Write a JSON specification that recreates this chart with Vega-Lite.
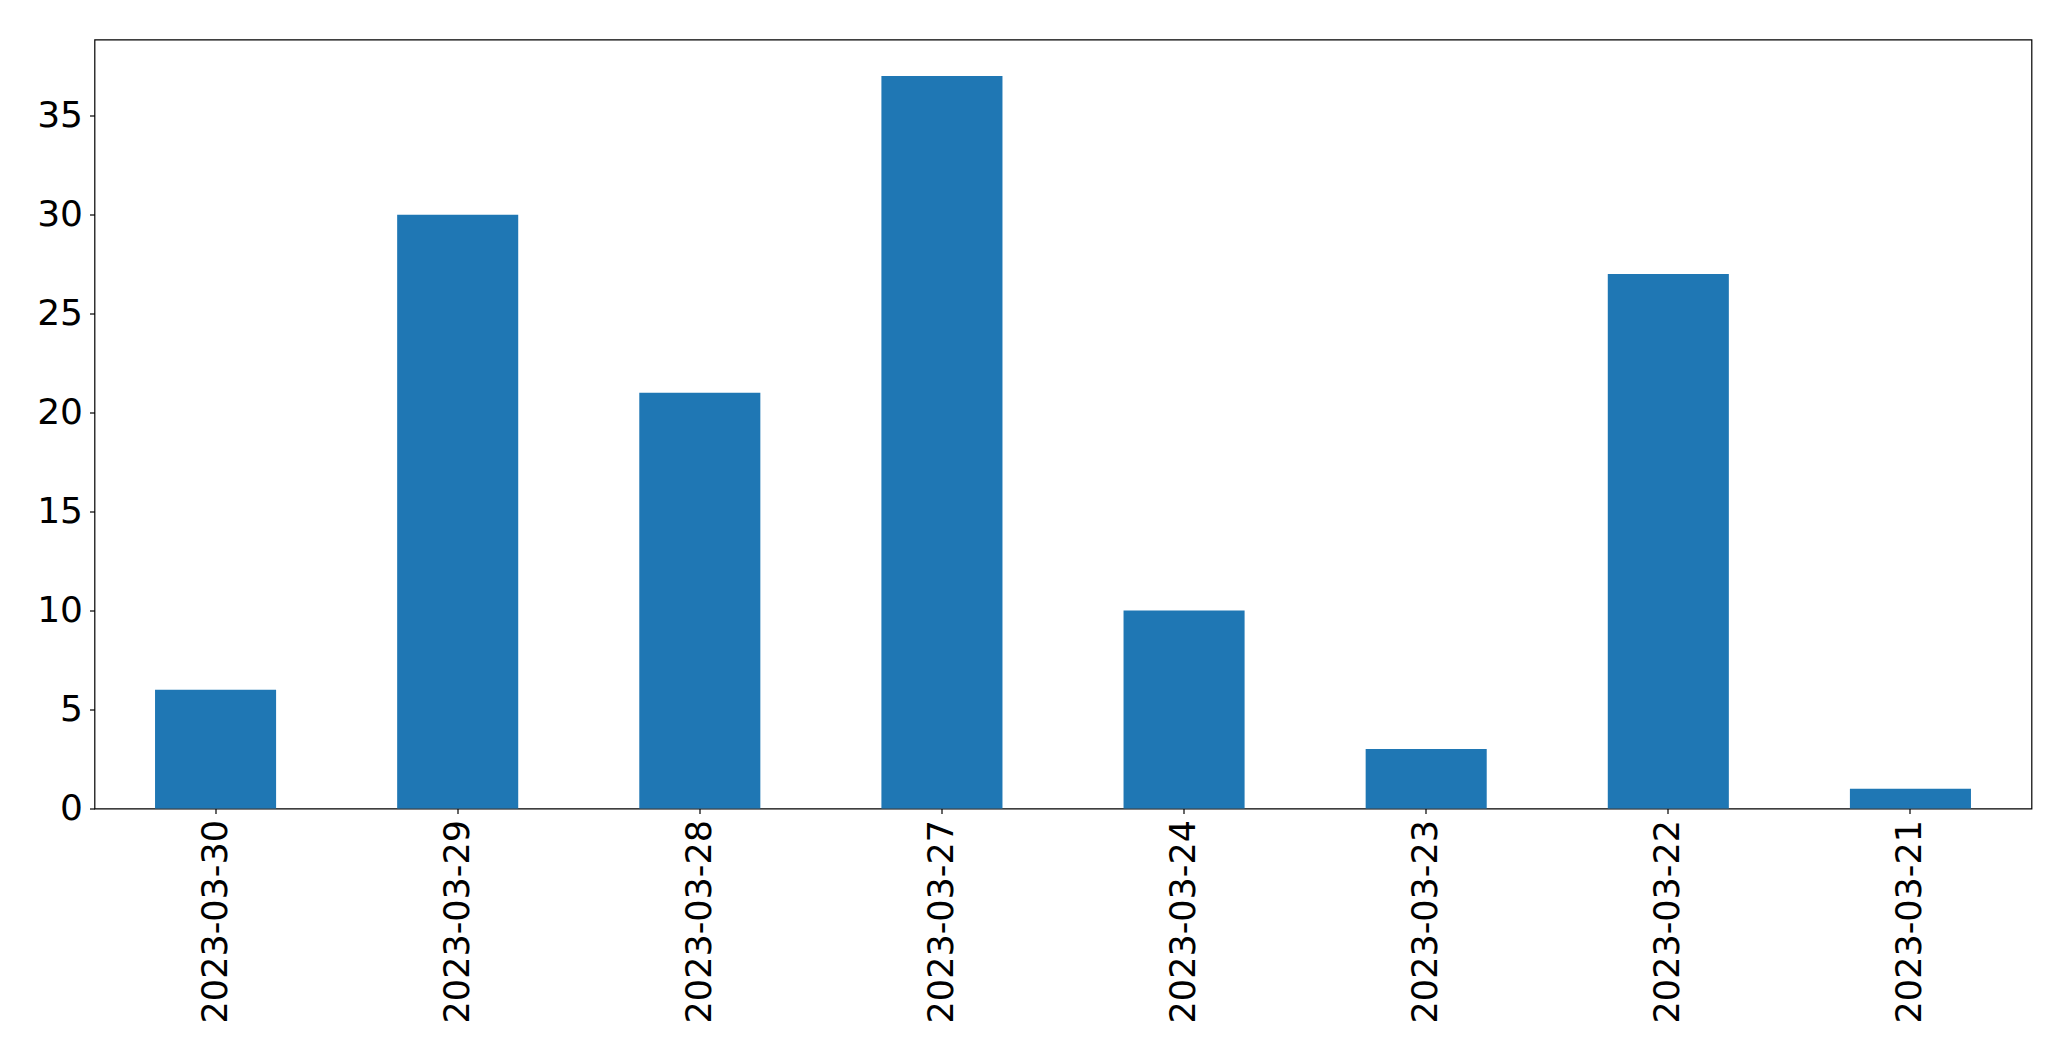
{
  "$schema": "https://vega.github.io/schema/vega-lite/v6.json",
  "autosize": "none",
  "width": 1937,
  "height": 769,
  "padding": {"left": 94.5, "top": 39.5, "right": 39.5, "bottom": 252.5},
  "background": "white",
  "config": {
    "view": {"stroke": "black", "strokeWidth": 1.2},
    "font": "DejaVu Sans"
  },
  "data": {
    "values": [
      {"date": "2023-03-30", "count": 6},
      {"date": "2023-03-29", "count": 30},
      {"date": "2023-03-28", "count": 21},
      {"date": "2023-03-27", "count": 37},
      {"date": "2023-03-24", "count": 10},
      {"date": "2023-03-23", "count": 3},
      {"date": "2023-03-22", "count": 27},
      {"date": "2023-03-21", "count": 1}
    ]
  },
  "mark": {"type": "bar", "color": "#1f77b4"},
  "encoding": {
    "x": {
      "field": "date",
      "type": "nominal",
      "sort": null,
      "scale": {"paddingInner": 0.5, "paddingOuter": 0.25},
      "axis": {
        "title": null,
        "labelAngle": -90,
        "labelFont": "DejaVu Sans",
        "labelFontSize": 35,
        "labelLimit": 0,
        "labelColor": "black",
        "labelPadding": 6,
        "tickColor": "black",
        "tickSize": 5,
        "tickWidth": 1.2,
        "domain": false,
        "grid": false
      }
    },
    "y": {
      "field": "count",
      "type": "quantitative",
      "scale": {"domain": [0, 38.85], "nice": false, "zero": true},
      "axis": {
        "title": null,
        "values": [0, 5, 10, 15, 20, 25, 30, 35],
        "labelFont": "DejaVu Sans",
        "labelFontSize": 36,
        "labelLimit": 0,
        "labelColor": "black",
        "labelPadding": 7,
        "tickColor": "black",
        "tickSize": 5,
        "tickWidth": 1.2,
        "domain": false,
        "grid": false
      }
    }
  }
}
